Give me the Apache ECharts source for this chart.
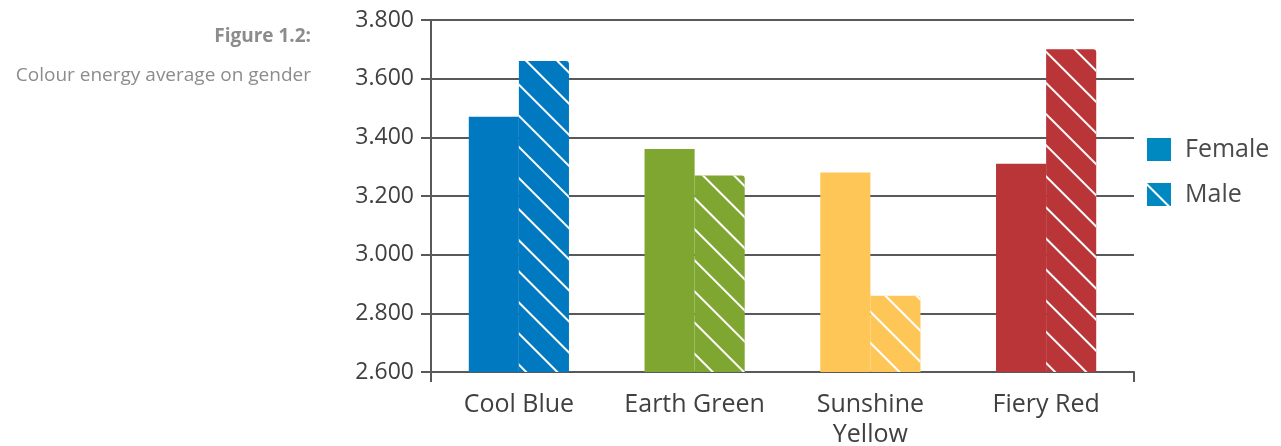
<!DOCTYPE html>
<html>
<head>
<meta charset="utf-8">
<script src="https://cdn.jsdelivr.net/npm/echarts@6/dist/echarts.min.js"></script>
<style>
html,body{margin:0;padding:0;background:#fff;}
#chart{width:1281px;height:446px;}
</style>
</head>
<body>
<div id="chart"></div>
<script>
const categories = ['Cool Blue', 'Earth Green', 'Sunshine\nYellow', 'Fiery Red'];
const barColors = ['#0079c1', '#80a632', '#fdc656', '#b93537'];
const femaleValues = [3.47, 3.36, 3.28, 3.31];
const maleValues = [3.66, 3.27, 2.86, 3.70];
const seriesNames = ['Female', 'Male'];
const yTicks = { min: 2.6, max: 3.8, interval: 0.2 };

const FONT = '"Open Sans", sans-serif';
const chart = echarts.init(document.getElementById('chart'), null, { renderer: 'canvas' });

const stripe = {
  symbol: 'rect', symbolSize: 1, color: '#ffffff',
  dashArrayX: [1, 0], dashArrayY: [2, 20], rotation: Math.PI / 4
};

function withColors(vals, decal) {
  return vals.map((v, i) => ({ value: v, itemStyle: { color: barColors[i], decal: decal } }));
}

chart.setOption({
  animation: false,
  aria: { enabled: true, decal: { show: true } },
  title: [
    { text: 'Figure 1.2:', left: 306, top: 22, textAlign: 'right',
      textStyle: { fontFamily: FONT, fontSize: 19, fontWeight: 'bold', color: '#8c8c8c' } },
    { text: 'Colour energy average on gender', left: 306, top: 61, textAlign: 'right',
      textStyle: { fontFamily: FONT, fontSize: 19, fontWeight: 'normal', color: '#8c8c8c' } }
  ],
  legend: {
    orient: 'vertical', left: 1147, top: 137, padding: 0,
    itemWidth: 24, itemHeight: 23, itemGap: 20,
    icon: 'rect',
    textStyle: { fontFamily: FONT, fontSize: 25, color: '#4a4a4a', padding: [0, 0, 0, 9] },
    data: seriesNames
  },
  grid: { left: 431, right: 147, top: 20, bottom: 74, containLabel: false, outerBoundsMode: 'none' },
  xAxis: {
    type: 'category', data: categories,
    axisLine: { show: true, lineStyle: { color: '#58595b', width: 2 } },
    axisTick: { show: true, length: 10, lineStyle: { color: '#58595b', width: 2 },
      interval: function (idx) { return idx === 0 || idx === categories.length; } },
    axisLabel: { interval: 0, fontFamily: FONT, fontSize: 25, color: '#404040', margin: 18, lineHeight: 30 }
  },
  yAxis: {
    type: 'value', min: yTicks.min, max: yTicks.max, interval: yTicks.interval,
    axisLine: { show: true, lineStyle: { color: '#58595b', width: 2 } },
    axisTick: { show: true, length: 10, lineStyle: { color: '#58595b', width: 2 } },
    splitLine: { show: true, lineStyle: { color: '#58595b', width: 2 } },
    axisLabel: { fontFamily: FONT, fontSize: 23, color: '#404040', margin: 17,
      formatter: v => v.toFixed(3) }
  },
  series: [
    { name: seriesNames[0], type: 'bar', barGap: '0%', barCategoryGap: '43%',
      itemStyle: { color: '#0088c0', decal: { symbol: 'none' } },
      data: withColors(femaleValues, { symbol: 'none' }) },
    { name: seriesNames[1], type: 'bar', barGap: '0%', barCategoryGap: '43%',
      itemStyle: { color: '#0088c0', decal: stripe, borderRadius: [0, 3, 0, 0] },
      data: withColors(maleValues, stripe) }
  ]
});
</script>
</body>
</html>
